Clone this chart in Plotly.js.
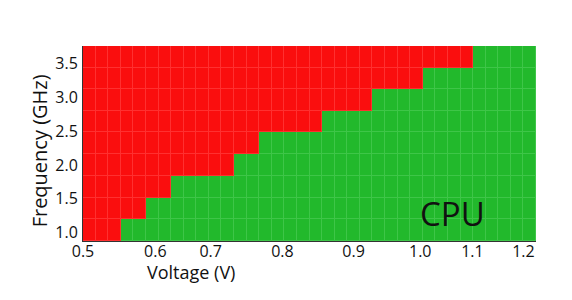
<!DOCTYPE html>
<html>
<head>
<meta charset="utf-8">
<script src="https://cdn.plot.ly/plotly-3.0.1.min.js"></script>
<style>html,body{margin:0;padding:0;background:#fff;}#chart{width:572px;height:300px;}</style>
</head>
<body>
<div id="chart"></div>
<script>
// Voltage settings (V), one per measured column
const voltages = [0.51,0.53,0.55,0.57,0.59,0.61,0.63,0.65,0.67,0.69,0.71,0.73,
                  0.75,0.77,0.79,0.81,0.83,0.85,0.87,0.89,0.91,0.93,0.95,0.97,
                  0.99,1.01,1.03,1.05,1.07,1.09,1.11,1.13,1.15,1.17,1.19,1.21];
// Frequency settings (GHz), one per row
const frequencies = [1.04,1.36,1.68,2.00,2.32,2.64,2.95,3.27,3.59];
// Number of frequency steps (from the lowest) that pass at each voltage
const passingSteps = [0,0,0,1,1,2,2,3,3,3,3,3,
                      4,4,5,5,5,5,5,6,6,6,6,7,
                      7,7,7,8,8,8,8,9,9,9,9,9];
// Axis tick labels as printed in the figure
const xTickLabels = ['0.5','0.6','0.7','0.8','0.9','1.0','1.1','1.2'];
const yTickLabels = ['1.0','1.5','2.0','2.5','3.0','3.5'];
const yTickValues = [1.0,1.5,2.0,2.5,3.0,3.5];

// Build pass(1)/fail(0) grid
const z = frequencies.map((f, r) => voltages.map((v, c) => (r < passingSteps[c] ? 1 : 0)));

// label placements along the x axis (as printed, not evenly spaced)
const xTickPlacement = [0.5, 0.615, 0.703, 0.817, 0.930, 1.036, 1.119, 1.200];

const base = {
  type: 'heatmap', x: voltages, y: frequencies, z: z,
  zmin: 0, zmax: 1, showscale: false, hoverinfo: 'skip'
};
const traces = [
  Object.assign({}, base, {colorscale: [[0,'rgb(255,48,48)'],[1,'rgb(62,198,72)']]}),
  Object.assign({}, base, {xgap: 1, ygap: 1, colorscale: [[0,'rgb(250,14,14)'],[1,'rgb(34,185,44)']]})
];

const font = {family: '"Open Sans", "DejaVu Sans", sans-serif', color: '#111'};
const layout = {
  width: 572, height: 300,
  margin: {l: 83, r: 36, t: 46, b: 59, pad: 0},
  paper_bgcolor: '#fff', plot_bgcolor: '#fff',
  font: font,
  showlegend: false,
  xaxis: {
    range: [0.5, 1.22], showgrid: false, zeroline: false,
    showline: true, linecolor: '#333', linewidth: 1, mirror: false,
    ticks: '', tickmode: 'array', tickvals: xTickPlacement, ticktext: xTickLabels,
    ticklabelstandoff: -4,
    tickfont: {size: 16, color: '#111'}, fixedrange: true
  },
  yaxis: {
    range: [0.88, 3.75], showgrid: false, zeroline: false,
    showline: true, linecolor: '#333', linewidth: 1,
    ticks: '', tickmode: 'array', tickvals: yTickValues, ticktext: yTickLabels,
    ticklabelstandoff: 1,
    tickfont: {size: 16, color: '#111'},
    fixedrange: true
  },
  annotations: [
    {text: 'Frequency (GHz)', xref: 'paper', yref: 'paper', x: -0.097, y: 0.46,
     xanchor: 'center', yanchor: 'middle', textangle: -90, showarrow: false,
     font: {size: 20, color: '#111'}},
    {text: 'Voltage (V)', xref: 'paper', yref: 'paper', x: 0.239, y: -0.158,
     xanchor: 'center', yanchor: 'middle', showarrow: false,
     font: {size: 18, color: '#111'}},
    {text: 'CPU', xref: 'paper', yref: 'paper', x: 0.815, y: 0.14,
     xanchor: 'center', yanchor: 'middle', showarrow: false,
     font: {size: 33, color: '#111'}}
  ]
};
Plotly.newPlot('chart', traces, layout, {staticPlot: true, displayModeBar: false});
</script>
</body>
</html>
